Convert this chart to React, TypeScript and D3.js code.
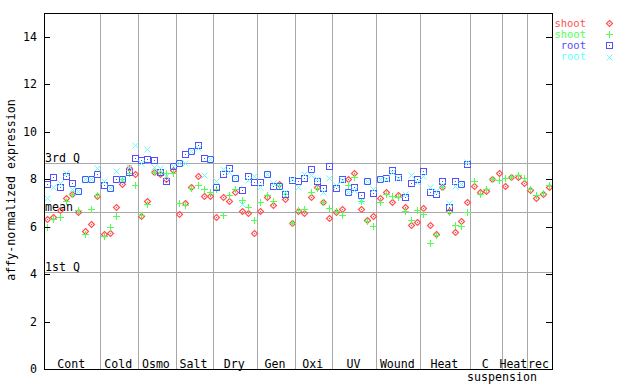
import React from "react";
import * as d3 from "d3";

const groupNames = ["Cont", "Cold", "Osmo", "Salt", "Dry", "Gen", "Oxi", "UV", "Wound", "Heat", "C", "Heat", "rec"];
const groupSizes = [9, 6, 6, 6, 7, 6, 6, 7, 7, 8, 5, 4, 4];

const shootRed = [
  6.31, 6.39, 6.70, 7.22, 7.37, 6.60, 5.82, 6.10, 7.28,
  5.69, 5.72, 6.83, 7.78, 8.47, 8.22,
  6.46, 7.07, 8.29, 8.23, 8.00, 8.40,
  6.52, 6.98, 7.66, 8.12, 7.29, 7.29,
  6.39, 7.24, 7.07, 7.45, 6.66, 6.56, 5.73,
  6.65, 7.24, 6.90, 7.80, 7.18, 6.14,
  6.66, 6.59, 7.24, 7.67, 7.02, 6.36,
  6.60, 6.74, 8.01, 8.27, 6.74, 6.27, 6.45,
  7.22, 7.45, 7.02, 7.33, 6.83, 6.07, 6.18,
  6.77, 6.07, 5.68, 7.68, 6.66, 5.76, 6.24, 7.02,
  7.73, 7.45, 7.51, 8.01, 8.25,
  7.73, 8.10, 8.10, 7.82,
  7.54, 7.19, 7.39, 7.68,
];
const shootGreen = [
  5.98, 6.31, 6.39, 7.07, 7.36, 6.69, 5.68, 6.73, 7.32,
  5.59, 5.98, 6.45, 8.00, 8.25, 7.75,
  6.50, 6.95, 8.29, 8.29, 8.27, 8.27,
  6.98, 6.91, 7.61, 7.74, 7.59, 7.45,
  7.60, 6.49, 7.33, 7.58, 7.11, 6.82, 6.27,
  7.02, 7.33, 7.08, 7.75, 7.37, 6.14,
  6.69, 6.74, 7.47, 7.62, 7.05, 6.77,
  6.65, 6.49, 7.75, 8.10, 7.09, 6.24, 6.03,
  7.02, 7.36, 7.30, 7.26, 6.66, 6.28, 6.70,
  6.52, 5.30, 5.65, 7.66, 6.63, 6.07, 6.03, 6.60,
  7.92, 7.39, 7.59, 8.01, 7.95,
  8.04, 8.10, 8.18, 8.06,
  7.57, 7.33, 7.42, 7.75,
];
const rootBlue: (number | null)[] = [
  7.80, 8.08, 7.67, 8.13, 7.82, 7.49, 8.01, 8.01, 8.22,
  7.74, 7.63, 8.01, 8.01, 8.29, 8.88,
  8.79, 8.84, 8.79, 8.29, 7.94, 8.54,
  8.66, 9.06, 9.20, 9.43, 8.88, 8.86,
  7.66, 8.22, 8.46, 8.04, 7.54, 8.12, 7.87,
  7.87, 8.20, 7.70, 7.73, 7.39, 7.98,
  7.91, 8.04, 8.42, 7.91, 7.61, 8.55,
  7.61, 7.99, 7.45, 7.66, 7.33, 7.94, 7.40,
  7.99, 8.05, 8.37, 8.10, 7.25, 7.82, 8.01,
  8.34, 7.45, 7.36, 7.94, 6.81, 7.91, 7.80, 8.64,
  null, null, null, null, null,
  null, null, null, null,
  null, null, null, null,
];
const rootCyan: (number | null)[] = [
  7.22, 7.68, 7.85, 8.27, 7.59, 7.49, 8.01, 8.01, 8.46,
  7.92, 7.63, 8.34, 8.01, 8.53, 9.43,
  8.67, 9.26, 8.52, 8.46, 8.12, 8.55,
  8.67, 8.70, 9.20, 9.30, 8.16, 8.86,
  7.91, 8.43, 8.29, 8.04, 6.95, 7.96, 8.12,
  7.68, 8.20, 7.85, 7.73, 7.45, 8.00,
  7.68, 8.20, 8.18, 8.00, 7.47, 8.04,
  7.75, 7.95, 7.45, 7.54, 7.09, 7.94, 7.59,
  7.99, 8.00, 8.30, 8.05, 7.36, 8.18, 7.87,
  8.15, 7.66, 7.51, 7.75, 7.00, 7.73, 7.80, 8.74,
  null, null, null, null, null,
  null, null, null, null,
  null, null, null, null,
];

const yTicks = [0, 2, 4, 6, 8, 10, 12, 14];
const refLines = [
  { label: "3rd Q", value: 8.67 },
  { label: "mean", value: 6.6 },
  { label: "1st Q", value: 4.07 },
];
const legendLabels = ["shoot", "shoot", "root", "root"];

const RED = "#ff5050";
const GREEN = "#50ff50";
const BLUE = "#5050ff";
const CYAN = "#66ffff";
const GRID = "#a8a8a8";
const FONT = "'DejaVu Sans Mono', monospace";

type Kind = "diamond" | "plus" | "square" | "cross";

function Marker({ kind, x, y, color }: { kind: Kind; x: number; y: number; color: string }) {
  const cx = Math.round(x) + 0.5;
  const cy = Math.round(y) + 0.5;
  if (kind === "diamond") {
    return (
      <g>
        <path d={`M${cx},${cy - 3}L${cx + 3},${cy}L${cx},${cy + 3}L${cx - 3},${cy}Z`} fill="none" stroke={color} strokeWidth={1.2} />
        <rect x={cx - 0.5} y={cy - 0.5} width={1} height={1} fill={color} />
      </g>
    );
  }
  if (kind === "plus") {
    return <path d={`M${cx - 3.5},${cy}H${cx + 3.5}M${cx},${cy - 3.5}V${cy + 3.5}`} stroke={color} strokeWidth={1} />;
  }
  if (kind === "square") {
    return (
      <g>
        <rect x={cx - 3} y={cy - 3} width={6} height={6} fill="none" stroke={color} strokeWidth={1} />
        <rect x={cx - 0.5} y={cy - 0.5} width={1} height={1} fill={color} />
      </g>
    );
  }
  return <path d={`M${cx - 3},${cy - 3}L${cx + 3},${cy + 3}M${cx + 3},${cy - 3}L${cx - 3},${cy + 3}`} stroke={color} strokeWidth={1} />;
}

export default function App() {
  const total = d3.sum(groupSizes);
  const left = 44, right = 552, top = 13, bottom = 369;
  const x = d3.scaleLinear().domain([0, total]).range([left, right]);
  const y = d3.scaleLinear().domain([0, 15]).range([bottom, top]);

  const starts: number[] = [];
  let acc = 0;
  groupSizes.forEach((s) => { starts.push(acc); acc += s; });

  const series: { data: (number | null)[]; kind: Kind; color: string }[] = [
    { data: shootRed, kind: "diamond", color: RED },
    { data: shootGreen, kind: "plus", color: GREEN },
    { data: rootBlue, kind: "square", color: BLUE },
    { data: rootCyan, kind: "cross", color: CYAN },
  ];

  return (
    <svg width={640} height={384} style={{ position: "absolute", left: 0, top: 0, background: "#fff" }} fontFamily={FONT}>
      <rect x={0} y={0} width={640} height={384} fill="#fff" />
      {starts.slice(1).map((s, i) => (
        <line key={"v" + i} x1={Math.round(x(s)) + 0.5} x2={Math.round(x(s)) + 0.5} y1={top} y2={bottom} stroke={GRID} strokeWidth={1} />
      ))}
      {refLines.map((r) => (
        <g key={r.label}>
          <line x1={left} x2={right} y1={Math.round(y(r.value)) + 0.5} y2={Math.round(y(r.value)) + 0.5} stroke={GRID} strokeWidth={1} />
          <text x={left + 1} y={Math.round(y(r.value)) - 1} fontSize={11.6} fill="#000">{r.label}</text>
        </g>
      ))}
      {series.map((s, si) => (
        <g key={"s" + si}>
          {s.data.map((v, i) =>
            v == null ? null : <Marker key={i} kind={s.kind} x={x(i + 0.5)} y={y(v)} color={s.color} />
          )}
        </g>
      ))}
      <rect x={left + 0.5} y={top + 0.5} width={right - left} height={bottom - top} fill="none" stroke="#000" strokeWidth={1} />
      {yTicks.map((t) => (
        <g key={"t" + t}>
          <line x1={left} x2={left + 6} y1={Math.round(y(t)) + 0.5} y2={Math.round(y(t)) + 0.5} stroke="#000" />
          <line x1={right - 6} x2={right} y1={Math.round(y(t)) + 0.5} y2={Math.round(y(t)) + 0.5} stroke="#000" />
          <text x={37} y={y(t) + 4} fontSize={11.6} textAnchor="end" fill="#000">{t}</text>
        </g>
      ))}
      {groupNames.map((g, i) => (
        <text key={"g" + i} x={x(starts[i] + groupSizes[i] / 2) - 1} y={368} fontSize={11.6} textAnchor="middle" fill="#000">{g}</text>
      ))}
      <text x={502} y={381} fontSize={11.6} textAnchor="middle" fill="#000">suspension</text>
      <text transform={`translate(15,190) rotate(-90)`} fontSize={11.6} textAnchor="middle" fill="#000">affy-normalized expression</text>
      {series.map((s, i) => (
        <g key={"l" + i}>
          <text x={586} y={23 + i * 11.2 + 3.5} fontSize={10.5} textAnchor="end" fill={s.color}>{legendLabels[i]}</text>
          <Marker kind={s.kind} x={609} y={23 + i * 11.2} color={s.color} />
        </g>
      ))}
    </svg>
  );
}
